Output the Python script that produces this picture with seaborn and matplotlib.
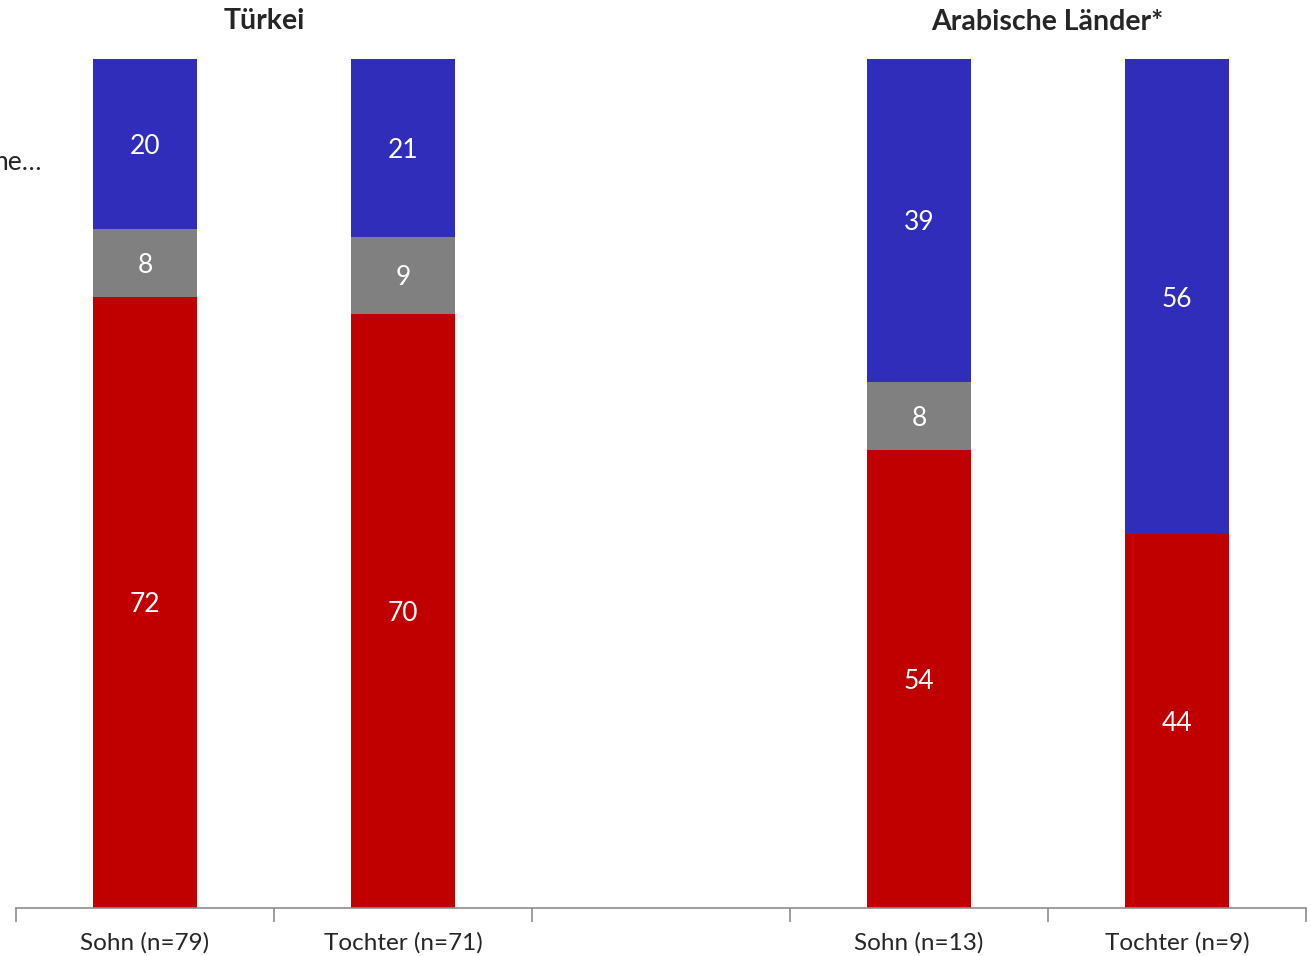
import numpy as np
import pandas as pd
import matplotlib
matplotlib.use("Agg")
import matplotlib.pyplot as plt
import seaborn as sns

categories = ["Sohn (n=79)", "Tochter (n=71)", " ", "Sohn (n=13)", "Tochter (n=9)"]
red_vals = [72, 70, np.nan, 54, 44]
gray_vals = [8, 9, np.nan, 8, 0]
blue_vals = [20, 21, np.nan, 39, 56]
group_titles = ["Türkei", "Arabische Länder*"]

RED = "#C00000"
GRAY = "#808080"
BLUE = "#2F2DBA"

sns.set_style("white")
plt.rcParams["font.family"] = ["Lato", "DejaVu Sans"]

df = pd.DataFrame({"cat": categories, "red": red_vals, "gray": gray_vals, "blue": blue_vals})
df["upper_gray"] = df["red"] + df["gray"]
df["total"] = df["upper_gray"] + df["blue"]

fig = plt.figure(figsize=(13.11, 9.56), dpi=100)
ax = fig.add_axes([16 / 1311, 1 - 908 / 956, 1290 / 1311, 849 / 956])

# stacked bars drawn as overlapping cumulative totals
for col, c in [("total", BLUE), ("upper_gray", GRAY), ("red", RED)]:
    sns.barplot(data=df, x="cat", y=col, order=categories, color=c, saturation=1,
                width=0.4, errorbar=None, ax=ax, linewidth=0)

ax.set_ylim(0, 100)
ax.set_xlim(-0.5, len(categories) - 0.5)

# value labels centred in each segment
for i in range(len(categories)):
    r, g, b = red_vals[i], gray_vals[i], blue_vals[i]
    if np.isnan(r):
        continue
    segs = [(0, r), (r, g), (r + g, b)]
    for base, h in segs:
        if h <= 0:
            continue
        top = min(base + h, 100)
        ax.text(i, (base + top) / 2, f"{h:g}", ha="center", va="center_baseline",
                color="white", fontsize=19)

ax.set_xlabel("")
ax.set_ylabel("")
ax.set_yticks([])
ax.set_xticks(np.arange(-0.5, len(categories)), labels=[])
ax.set_xticks(np.arange(len(categories)), labels=categories, minor=True)
ax.tick_params(axis="x", which="major", bottom=True, length=10, width=1.2,
               color="#8c8c8c", direction="out")
ax.tick_params(axis="x", which="minor", bottom=True, length=0, pad=17, labelsize=17.5)
for side in ["top", "right", "left"]:
    ax.spines[side].set_visible(False)
ax.spines["bottom"].set_color("#8c8c8c")
ax.spines["bottom"].set_linewidth(1.2)

fig.text(264 / 1311, 1 - 21 / 956, group_titles[0], ha="center", va="center",
         fontsize=20.5, fontweight="bold")
fig.text(1047 / 1311, 1 - 22 / 956, group_titles[1], ha="center", va="center",
         fontsize=20.5, fontweight="bold")
fig.text(42 / 1311, 1 - 163 / 956, "he…", ha="right", va="center", fontsize=19)

fig.savefig("out.png", dpi=100)
